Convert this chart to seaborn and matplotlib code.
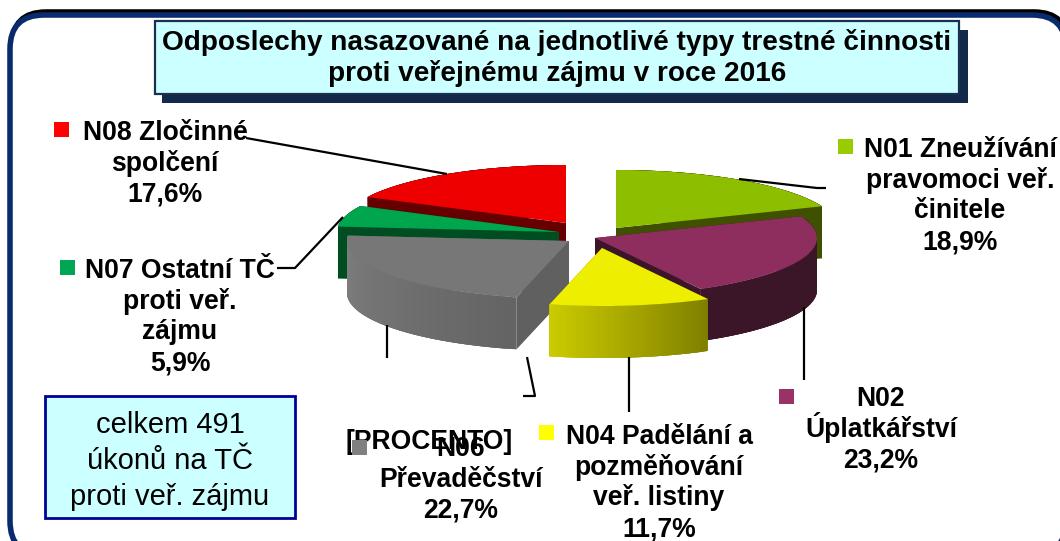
import numpy as np
import matplotlib
matplotlib.use("Agg")
import matplotlib.pyplot as plt
from matplotlib.patches import FancyBboxPatch, Rectangle
import seaborn as sns

# data, clockwise from 12 o'clock
kody = ["N01", "N02", "N04", "N06", "N07", "N08"]
podily = [18.9, 23.2, 11.7, 22.7, 5.9, 17.6]
popisky = [
    "N01 Zneužívání\npravomoci veř.\nčinitele\n18,9%",
    "N02\nÚplatkářství\n23,2%",
    "N04 Padělání a\npozměňování\nveř. listiny\n11,7%",
    "N06\nPřevaděčství\n22,7%",
    "N07 Ostatní TČ\nproti veř.\nzájmu\n5,9%",
    "N08 Zločinné\nspolčení\n17,6%",
]
titulek = "Odposlechy nasazované na jednotlivé typy trestné činnosti\nproti veřejnému zájmu v roce 2016"
celkem = "celkem 491\núkonů na TČ\nproti veř. zájmu"

# slice styling
barvy_top = ["#8DBE00", "#8E2E5E", "#EEEE00", "#777777", "#00A64D", "#EE0000"]
barvy_stena = ["#3F5000", "#3B1528", "#808000", "#606060", "#004D22", "#660000"]
barvy_okraj = [("#3F5000", "#3F5000"), ("#3B1528", "#3B1528"), ("#CCCC00", "#808000"),
               ("#808080", "#646464"), ("#004D22", "#004D22"), ("#660000", "#660000")]
barvy_legenda = ["#99CC00", "#993366", "#FFFF00", "#808080", "#00A651", "#FF0000"]
stredy_px = [(616, 228), (595, 238), (602, 248), (569, 241), (559, 232), (566, 223)]
pozice_popisku = [(960, 194), (881, 428), (659, 481), (461, 478), (180, 315), (165, 162)]
pozice_legendy = [(838, 139), (779, 389), (539, 425), (352, 440), (60, 260), (54, 122)]
poradi = [0, 5, 4, 3, 1, 2]

W, H = 1060, 541
RX, RY, HLOUBKA = 222, 58, 52

sns.set_theme(style="white")
plt.rcParams["font.family"] = ["Liberation Sans", "DejaVu Sans"]

fig = plt.figure(figsize=(W / 100, H / 100), dpi=100, facecolor="white")

# background layer, pixel coordinates
ax_bg = fig.add_axes([0, 0, 1, 1], zorder=0)
ax_bg.set_xlim(0, W)
ax_bg.set_ylim(H, 0)
ax_bg.axis("off")
ax_bg.add_patch(FancyBboxPatch((12, 12), 1056, 540, boxstyle="round,pad=0,rounding_size=34",
                               fc="none", ec="black", lw=4))
ax_bg.add_patch(FancyBboxPatch((10, 15), 1056, 540, boxstyle="round,pad=0,rounding_size=34",
                               fc="white", ec="#0A2A6E", lw=4))

# pie layer, one unit = one radius in each direction so the pie comes out flat
ax = fig.add_axes([0, 0, 1, 1], zorder=1)
ax.patch.set_alpha(0)


def cx(px):
    return px / RX


def cy(py):
    return (H - py) / RY


hloubka = HLOUBKA / RY
konce = 90 - 3.6 * np.cumsum(podily)
zacatky = np.r_[90, konce[:-1]]

for i in poradi:
    x0, y0 = cx(stredy_px[i][0]), cy(stredy_px[i][1])
    t1, t2 = np.radians(zacatky[i]), np.radians(konce[i])
    # cut walls
    for t in (t1, t2):
        xs = [x0, x0 + np.cos(t), x0 + np.cos(t), x0]
        ys = [y0, y0 + np.sin(t), y0 + np.sin(t) - hloubka, y0 - hloubka]
        ax.fill(xs, ys, color=barvy_stena[i], lw=0)
    # outer rim, overlapping strips so no seams show, shade goes left to right
    n = 60
    th = np.linspace(t1, t2, n + 1)
    paleta = sns.blend_palette(barvy_okraj[i], n + 1)
    rank = np.argsort(np.argsort(np.cos(th)))
    for k in range(n):
        kousek = np.linspace(th[k], th[min(k + 3, n)], 6)
        xs = x0 + np.cos(kousek)
        yt = y0 + np.sin(kousek)
        ax.fill(np.r_[xs, xs[::-1]], np.r_[yt, yt[::-1] - hloubka], color=paleta[rank[k]], lw=0)
    ax.pie([podily[i] / 100], normalize=False, startangle=zacatky[i], counterclock=False,
           colors=[barvy_top[i]], center=(x0, y0), radius=1, frame=True,
           wedgeprops={"linewidth": 0})

ax.set_aspect("auto")
ax.set_xlim(0, W / RX)
ax.set_ylim(0, H / RY)
ax.axis("off")

# text, boxes and leader lines, pixel coordinates again
ax_t = fig.add_axes([0, 0, 1, 1], zorder=2)
ax_t.patch.set_alpha(0)
ax_t.set_xlim(0, W)
ax_t.set_ylim(H, 0)
ax_t.axis("off")

vodici = [
    [(739, 179), (817, 188), (826, 188)],
    [(804, 307), (804, 380)],
    [(629, 357), (629, 412)],
    [(527, 357), (535, 396), (523, 396)],
    [(343, 217), (295, 268), (277, 268)],
    [(246, 138), (447, 174)],
    [(387, 325), (387, 358)],
]
for cara in vodici:
    ax_t.plot(*zip(*cara), color="black", lw=1.6, solid_capstyle="butt")

ax_t.add_patch(Rectangle((162, 30), 806, 73, fc="#13294A", ec="none"))
ax_t.add_patch(Rectangle((155, 21), 804, 73, fc="#CCFFFF", ec="#1A3050", lw=1.6))
ax_t.text(557, 58, titulek, ha="center", va="center", fontsize=20.2, fontweight="bold",
          color="black", linespacing=1.21)

ax_t.add_patch(Rectangle((45, 396), 250, 122, fc="#CCFFFF", ec="#000099", lw=2))
ax_t.text(170, 461, celkem, ha="center", va="center", fontsize=21, color="black",
          linespacing=1.35)

# the stray placeholder sits under N06 in the source
ax_t.text(429, 442, "[PROCENTO]", ha="center", va="center", fontsize=19.1,
          fontweight="bold", color="black")

for i in range(len(kody)):
    ax_t.add_patch(Rectangle(pozice_legendy[i], 15, 15, fc=barvy_legenda[i], ec="none", zorder=4))
    radky = popisky[i].split("\n")
    for j, radek in enumerate(radky):
        y = pozice_popisku[i][1] + (j - (len(radky) - 1) / 2) * 30.8 + 9
        ax_t.text(pozice_popisku[i][0], y, radek, ha="center", va="baseline", fontsize=19.1,
                  fontweight="bold", color="black", zorder=5)

fig.savefig("out.png", dpi=100, facecolor="white")
